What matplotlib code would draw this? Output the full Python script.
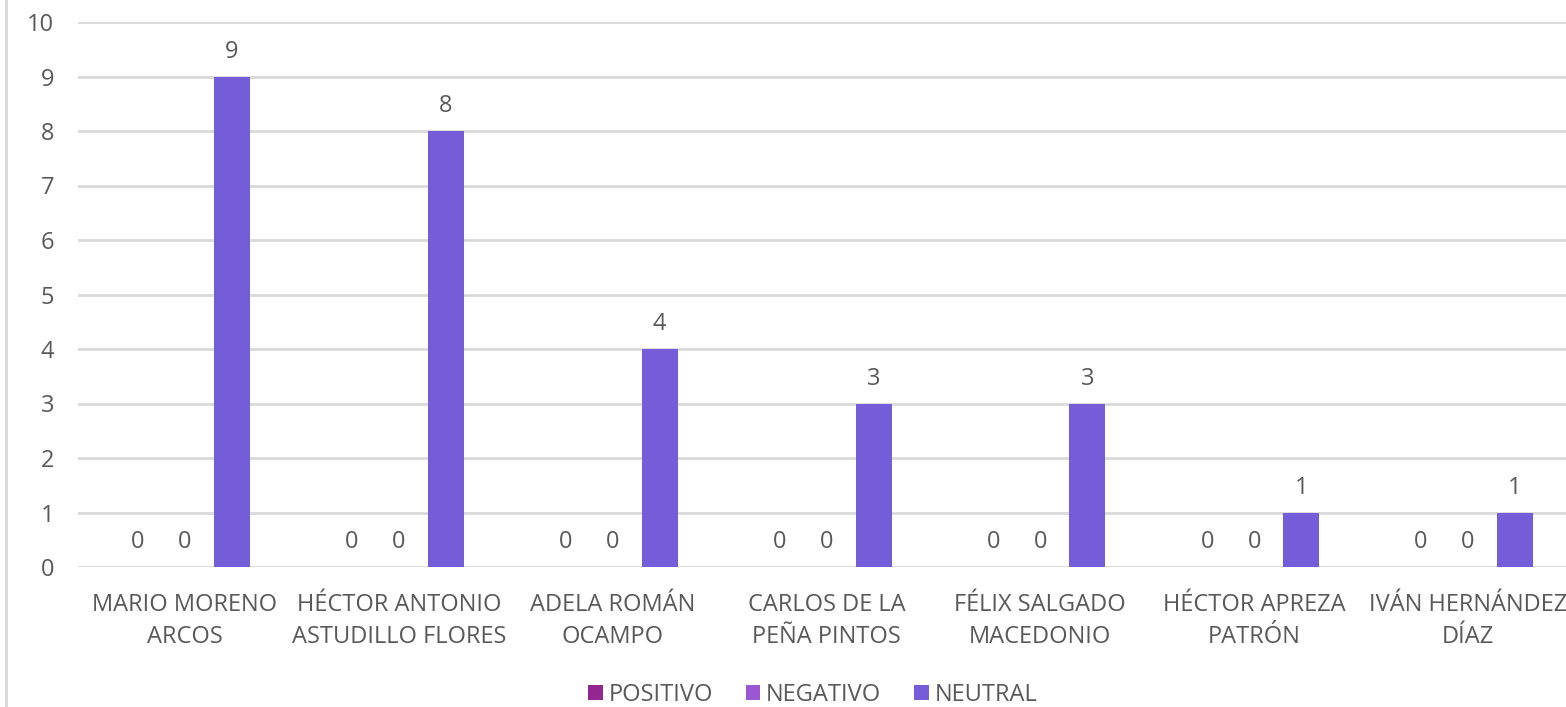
import numpy as np
import matplotlib.pyplot as plt
from matplotlib.lines import Line2D

plt.rcParams['font.family'] = ['Open Sans', 'DejaVu Sans']

candidatos = ["MARIO MORENO\nARCOS", "HÉCTOR ANTONIO\nASTUDILLO FLORES",
              "ADELA ROMÁN\nOCAMPO", "CARLOS DE LA\nPEÑA PINTOS",
              "FÉLIX SALGADO\nMACEDONIO", "HÉCTOR APREZA\nPATRÓN",
              "IVÁN HERNÁNDEZ\nDÍAZ"]
positivo = [0, 0, 0, 0, 0, 0, 0]
negativo = [0, 0, 0, 0, 0, 0, 0]
neutral = [9, 8, 4, 3, 3, 1, 1]
series = ["POSITIVO", "NEGATIVO", "NEUTRAL"]
colores = ["#93278F", "#9B57D3", "#755DD9"]
text_col = "#595959"
fs = 17

fig = plt.figure(figsize=(15.66, 7.07), dpi=100)
ax = fig.add_axes([78 / 1566, 1 - 567 / 707, 1497 / 1566, 545 / 707])

x = np.arange(len(candidatos))
width = 0.168
step = 0.22
for i, (vals, nombre, col) in enumerate(zip([positivo, negativo, neutral], series, colores)):
    pos = x + (i - 1) * step
    ax.bar(pos, vals, width, color=col, label=nombre, zorder=3)
    for p, v in zip(pos, vals):
        ax.text(p, v + 0.23, str(v), ha='center', va='bottom',
                fontsize=fs, color=text_col)

ax.set_xlim(-0.5, len(candidatos) - 0.5)
ax.set_ylim(0, 10)
ax.set_yticks(range(0, 11))
ax.set_xticks(x)
ax.set_xticklabels(candidatos, fontsize=fs, color=text_col, linespacing=1.45)
ax.tick_params(axis='y', labelsize=fs, colors=text_col, length=0, pad=17)
ax.tick_params(axis='x', length=0, pad=19)
ax.grid(axis='y', color='#D9D9D9', linewidth=2, zorder=0)
for s in ax.spines.values():
    s.set_visible(False)

fig.legend(loc='lower center', bbox_to_anchor=(0.519, -0.03), ncol=3, frameon=False,
           fontsize=fs, labelcolor=text_col, handlelength=0.6, handleheight=0.6,
           handletextpad=0.25, columnspacing=1.4)

fig.add_artist(Line2D([6 / 1566, 6 / 1566], [0, 1], color='#D9D9D9', linewidth=2))

fig.savefig("out.png", dpi=100)
